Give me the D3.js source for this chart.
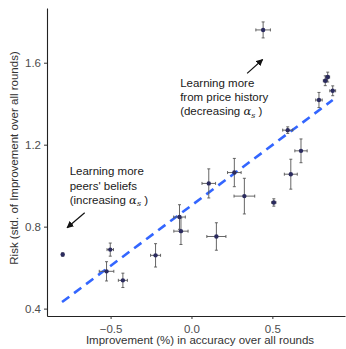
<!DOCTYPE html>
<html>
<head>
<meta charset="utf-8">
<script src="https://cdn.jsdelivr.net/npm/d3@7"></script>
<style>
  html, body { margin: 0; padding: 0; background: #fff; }
  svg { display: block; font-family: "Liberation Sans", Arial, sans-serif; }
</style>
</head>
<body>
<svg width="346" height="349"></svg>
<script>
// pontos (melhoria vs risco) com barras de erro
const improvement = [-0.796, -0.502, -0.525, -0.424, -0.222, -0.074, -0.065, 0.107, 0.154, 0.265,
                     0.327, 0.509, 0.595, 0.614, 0.677, 0.443, 0.788, 0.827, 0.842, 0.873];
const risk        = [0.664, 0.688, 0.582, 0.538, 0.660, 0.847, 0.778, 1.011, 0.752, 1.064,
                     0.949, 0.918, 1.271, 1.056, 1.170, 1.760, 1.418, 1.512, 1.530, 1.463];
const improvementErr = [0.005, 0.020, 0.045, 0.028, 0.031, 0.036, 0.044, 0.042, 0.059, 0.042,
                        0.064, 0.013, 0.031, 0.040, 0.038, 0.045, 0.020, 0.012, 0.012, 0.018];
const riskErr     = [0.008, 0.032, 0.047, 0.035, 0.057, 0.060, 0.065, 0.071, 0.067, 0.069,
                     0.087, 0.018, 0.016, 0.073, 0.058, 0.039, 0.037, 0.024, 0.024, 0.024];

// reta ajustada (tracejada)
const fitX = [-0.80, 0.873];
const fitY = [0.432, 1.418];

const xTicks = [-0.5, 0.0, 0.5];
const yTicks = [0.4, 0.8, 1.2, 1.6];
const xDomain = [-0.893, 0.949];
const yDomain = [0.364, 1.867];

const xTitle = "Improvement (%) in accuracy over all rounds";
const yTitle = "Risk (std. of Improvement over all rounds)";

// anotações: linhas de texto + seta (coordenadas em dados)
const notes = [
  { lines: ["Learning more", "from price history", "(decreasing "], at: [-0.07, 1.482],
    arrow: [[0.344, 1.548], [0.440, 1.616]] },
  { lines: ["Learning more", "peers' beliefs", "(increasing "], at: [-0.753, 1.050],
    arrow: [[-0.660, 0.868], [-0.769, 0.795]] }
];

const svg = d3.select("svg");
const width = 346, height = 349;
const margin = { top: 8, right: 1, bottom: 33, left: 47 };

const x = d3.scaleLinear().domain(xDomain).range([margin.left, width - margin.right]);
const y = d3.scaleLinear().domain(yDomain).range([height - margin.bottom, margin.top]);

const fmt = d3.format(".1f");
const minus = v => fmt(v).replace("-", "\u2013");

// eixos
const xAxis = svg.append("g")
  .attr("transform", `translate(0,${height - margin.bottom})`)
  .call(d3.axisBottom(x).tickValues(xTicks).tickFormat(minus).tickSize(3).tickSizeOuter(0));
const yAxis = svg.append("g")
  .attr("transform", `translate(${margin.left},0)`)
  .call(d3.axisLeft(y).tickValues(yTicks).tickFormat(fmt).tickSize(3).tickSizeOuter(0));

[xAxis, yAxis].forEach(a => {
  a.select(".domain").attr("stroke", "#222").attr("stroke-width", 1.1);
  a.selectAll(".tick line").attr("stroke", "#333");
  a.selectAll(".tick text")
    .attr("fill", "#4d4d4d")
    .style("font-size", "11.5px")
    .style("font-family", "Liberation Sans, Arial, sans-serif");
});
xAxis.selectAll(".tick text").attr("dy", "0.95em");

svg.append("text")
  .attr("x", 200)
  .attr("y", height - 5)
  .attr("text-anchor", "middle")
  .attr("fill", "#333")
  .style("font-size", "11.5px")
  .text(xTitle);

svg.append("text")
  .attr("transform", `translate(18,${(margin.top + height - margin.bottom) / 2 - 4}) rotate(-90)`)
  .attr("text-anchor", "middle")
  .attr("fill", "#333")
  .style("font-size", "11.5px")
  .text(yTitle);

// reta
svg.append("line")
  .attr("x1", x(fitX[0])).attr("y1", y(fitY[0]))
  .attr("x2", x(fitX[1])).attr("y2", y(fitY[1]))
  .attr("stroke", "#3366ff")
  .attr("stroke-width", 2.6)
  .attr("stroke-dasharray", "9,6");

// barras de erro
const pts = improvement.map((v, i) => ({ x: v, y: risk[i], ex: improvementErr[i], ey: riskErr[i] }));
const eb = svg.append("g").attr("stroke", "#555").attr("stroke-width", 1).attr("stroke-opacity", 0.9);
const cap = 1.5;
pts.forEach(d => {
  const cx = x(d.x), cy = y(d.y);
  const x0 = x(d.x - d.ex), x1 = x(d.x + d.ex);
  const y0 = y(d.y - d.ey), y1 = y(d.y + d.ey);
  eb.append("line").attr("x1", cx).attr("x2", cx).attr("y1", y0).attr("y2", y1);
  eb.append("line").attr("x1", cx - cap).attr("x2", cx + cap).attr("y1", y0).attr("y2", y0);
  eb.append("line").attr("x1", cx - cap).attr("x2", cx + cap).attr("y1", y1).attr("y2", y1);
  eb.append("line").attr("x1", x0).attr("x2", x1).attr("y1", cy).attr("y2", cy);
  eb.append("line").attr("x1", x0).attr("x2", x0).attr("y1", cy - cap).attr("y2", cy + cap);
  eb.append("line").attr("x1", x1).attr("x2", x1).attr("y1", cy - cap).attr("y2", cy + cap);
});

svg.append("g").selectAll("circle")
  .data(pts)
  .join("circle")
  .attr("cx", d => x(d.x))
  .attr("cy", d => y(d.y))
  .attr("r", 2.2)
  .attr("fill", "#2b2b5e");

// setas
svg.append("defs").append("marker")
  .attr("id", "head")
  .attr("viewBox", "0 0 10 10")
  .attr("refX", 9).attr("refY", 5)
  .attr("markerWidth", 7).attr("markerHeight", 7)
  .attr("markerUnits", "userSpaceOnUse")
  .attr("orient", "auto")
  .append("path")
  .attr("d", "M0,0 L10,5 L0,10 z")
  .attr("fill", "#111");

notes.forEach(n => {
  const t = svg.append("text")
    .attr("fill", "#1a1a1a")
    .style("font-size", "11.5px");
  n.lines.forEach((s, i) => {
    t.append("tspan")
      .attr("x", x(n.at[0]))
      .attr("y", y(n.at[1]) + i * 14.2)
      .text(s);
    if (i === n.lines.length - 1) {
      t.append("tspan").attr("font-family", "DejaVu Serif, serif").attr("font-style", "italic").text("\u03b1");
      t.append("tspan").attr("font-family", "DejaVu Serif, serif").attr("font-style", "italic")
        .attr("font-size", "8px").attr("dy", 2.5).text("s");
      t.append("tspan").attr("dy", -2.5).text(" )");
    }
  });
  svg.append("line")
    .attr("x1", x(n.arrow[0][0])).attr("y1", y(n.arrow[0][1]))
    .attr("x2", x(n.arrow[1][0])).attr("y2", y(n.arrow[1][1]))
    .attr("stroke", "#111")
    .attr("stroke-width", 1.2)
    .attr("marker-end", "url(#head)");
});
</script>
</body>
</html>
